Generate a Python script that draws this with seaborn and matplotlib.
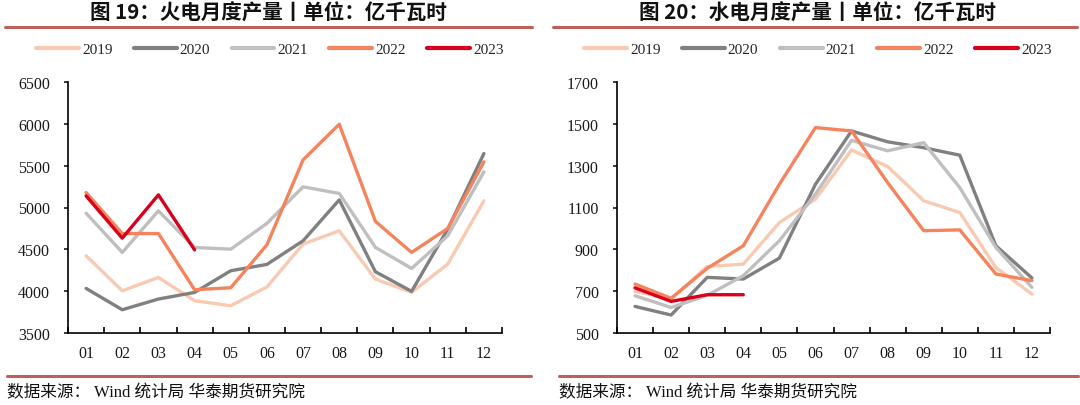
import numpy as np
import pandas as pd
import matplotlib
matplotlib.use("Agg")
import matplotlib.pyplot as plt
import seaborn as sns
from matplotlib.lines import Line2D

months = ['01', '02', '03', '04', '05', '06', '07', '08', '09', '10', '11', '12']
years = ['2019', '2020', '2021', '2022', '2023']
colors = ['#F9C9B2', '#808080', '#BFBFBF', '#F5845E', '#D9001B']

# 火电 (亿千瓦时)
thermal_2019 = [4423, 4005, 4164, 3886, 3826, 4050, 4563, 4721, 4145, 3986, 4324, 5080]
thermal_2020 = [4033, 3778, 3906, 3985, 4244, 4320, 4602, 5091, 4232, 3998, 4742, 5645]
thermal_2021 = [4932, 4463, 4960, 4522, 4502, 4810, 5247, 5168, 4523, 4272, 4662, 5426]
thermal_2022 = [5179, 4689, 4689, 4017, 4041, 4554, 5569, 5995, 4834, 4463, 4750, 5545]
thermal_2023 = [5139, 4634, 5151, 4494]

# 水电 (亿千瓦时)
hydro_2019 = [699, 662, 818, 829, 1028, 1140, 1375, 1296, 1132, 1076, 813, 686]
hydro_2020 = [627, 586, 766, 758, 858, 1211, 1466, 1414, 1386, 1350, 917, 763]
hydro_2021 = [678, 622, 680, 774, 941, 1164, 1421, 1371, 1410, 1195, 909, 718]
hydro_2022 = [734, 666, 809, 917, 1211, 1482, 1466, 1219, 989, 993, 782, 750]
hydro_2023 = [716, 651, 683, 683]

thermal = [thermal_2019, thermal_2020, thermal_2021, thermal_2022, thermal_2023]
hydro = [hydro_2019, hydro_2020, hydro_2021, hydro_2022, hydro_2023]


def to_long(series):
    rows = []
    for yr, vals in zip(years, series):
        for i, v in enumerate(vals):
            rows.append({'month': i, 'year': yr, 'value': v})
    return pd.DataFrame(rows)


sns.set_theme(style="ticks")
plt.rcParams['font.family'] = ['Liberation Serif', 'Noto Sans CJK SC']
plt.rcParams['axes.unicode_minus'] = False

fig = plt.figure(figsize=(10.8, 4.06), dpi=100)
ax1 = fig.add_axes([68 / 1080, 1 - 334 / 406, 434 / 1080, 251 / 406])
ax2 = fig.add_axes([617 / 1080, 1 - 334 / 406, 433 / 1080, 251 / 406])

palette = dict(zip(years, colors))
bar_color = '#C0605A'


def draw(ax, series, ylim, yticks, leg_x):
    df = to_long(series)
    sns.lineplot(data=df, x='month', y='value', hue='year', hue_order=years,
                 palette=palette, linewidth=2.4, ax=ax, legend=False)
    ax.set_xlim(-0.5, 11.5)
    ax.set_xticks(range(12))
    ax.set_xticklabels(months)
    ax.set_xticks(np.arange(-0.5, 12, 1), minor=True)
    ax.tick_params(axis='x', which='major', length=0, pad=9, labelsize=11.5, colors='#1a1a1a')
    ax.tick_params(axis='x', which='minor', direction='in', length=4, width=1.2, color='black')
    ax.set_ylim(*ylim)
    ax.set_yticks(yticks)
    ax.tick_params(axis='y', direction='out', length=3, width=1.2, pad=10, labelsize=11.5,
                   colors='#1a1a1a')
    ax.set_xlabel('')
    ax.set_ylabel('')
    for s in ['top', 'right']:
        ax.spines[s].set_visible(False)
    for s in ['left', 'bottom']:
        ax.spines[s].set_color('black')
        ax.spines[s].set_linewidth(1.2)
    handles = [Line2D([0], [0], color=c, lw=3, label=y) for y, c in zip(years, colors)]
    ax.legend(handles=handles, loc='center', bbox_to_anchor=(leg_x, 1.13), ncol=5,
              frameon=False, handlelength=2.8, handletextpad=0.2, columnspacing=1.4,
              fontsize=11)


draw(ax1, thermal, (3500, 6500), range(3500, 6501, 500), 0.465)
draw(ax2, hydro, (500, 1700), range(500, 1701, 200), 0.464)

# titles and rules
title_kw = dict(ha='center', va='center', fontsize=14.8, fontweight='bold',
                family=['Noto Sans CJK SC'], color='#111111')
fig.text(268 / 1080, 1 - 13 / 406, '图 19：火电月度产量丨单位：亿千瓦时', **title_kw)
fig.text(817 / 1080, 1 - 13 / 406, '图 20：水电月度产量丨单位：亿千瓦时', **title_kw)

for x0, x1 in [(5, 532), (553, 1077)]:
    fig.add_artist(Line2D([x0 / 1080, x1 / 1080], [1 - 28 / 406] * 2, color=bar_color, lw=2.2))
for x0, x1 in [(7, 531), (559, 1078)]:
    fig.add_artist(Line2D([x0 / 1080, x1 / 1080], [1 - 377 / 406] * 2, color=bar_color, lw=2.2))

src_kw = dict(ha='left', va='center', fontsize=12, color='#111111')
src = '数据来源： Wind 统计局 华泰期货研究院'
fig.text(7 / 1080, 1 - 393 / 406, src, **src_kw)
fig.text(559 / 1080, 1 - 393 / 406, src, **src_kw)

fig.savefig('out.png', dpi=100)
